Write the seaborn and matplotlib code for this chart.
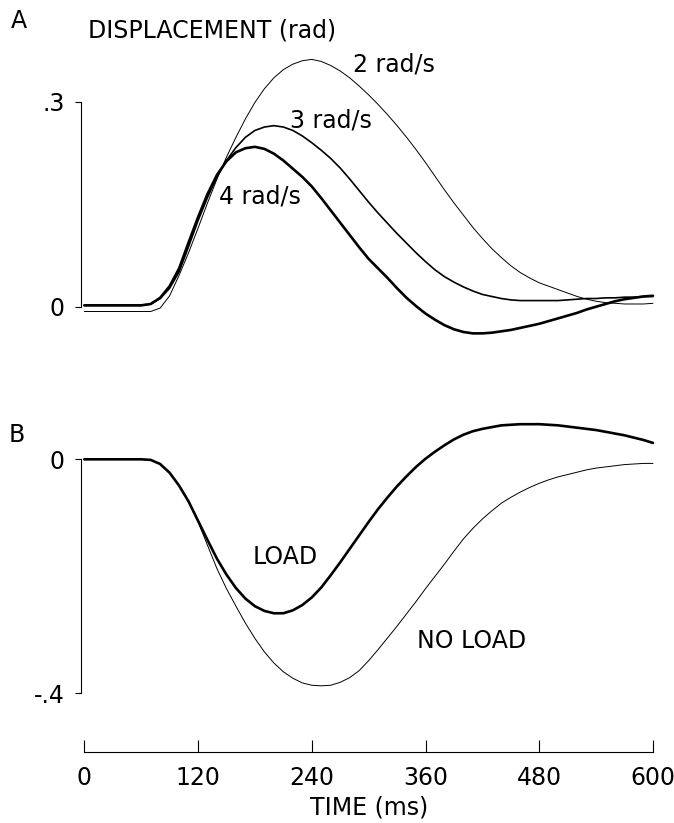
import matplotlib
matplotlib.use("Agg")
import matplotlib.pyplot as plt
import seaborn as sns

# time base shared by both panels (ms)
time_ms = [0, 10, 20, 30, 40, 50, 60, 70, 80, 90, 100, 110, 120, 130, 140, 150,
           160, 170, 180, 190, 200, 210, 220, 230, 240, 250, 260, 270, 280, 290,
           300, 310, 320, 330, 340, 350, 360, 370, 380, 390, 400, 410, 420, 430,
           440, 450, 460, 470, 480, 490, 500, 510, 520, 530, 540, 550, 560, 570,
           580, 590, 600]

# panel A: displacement (rad) for three velocities
disp_2 = [-0.007, -0.007, -0.007, -0.007, -0.007, -0.007, -0.007, -0.007, -0.002,
          0.016, 0.046, 0.079, 0.115, 0.152, 0.187, 0.219, 0.248, 0.275, 0.299,
          0.319, 0.335, 0.347, 0.355, 0.360, 0.362, 0.359, 0.353, 0.345, 0.335,
          0.323, 0.310, 0.296, 0.281, 0.265, 0.248, 0.230, 0.211, 0.191, 0.171,
          0.152, 0.134, 0.116, 0.100, 0.085, 0.072, 0.060, 0.050, 0.042, 0.035,
          0.030, 0.025, 0.020, 0.015, 0.011, 0.008, 0.006, 0.005, 0.004, 0.004,
          0.004, 0.005]
disp_3 = [0.002, 0.002, 0.002, 0.002, 0.002, 0.002, 0.002, 0.004, 0.012, 0.027,
          0.051, 0.088, 0.126, 0.160, 0.190, 0.214, 0.233, 0.248, 0.258, 0.263,
          0.265, 0.263, 0.258, 0.250, 0.240, 0.229, 0.217, 0.203, 0.187, 0.170,
          0.153, 0.137, 0.122, 0.107, 0.093, 0.079, 0.066, 0.054, 0.044, 0.036,
          0.029, 0.023, 0.018, 0.015, 0.012, 0.010, 0.009, 0.009, 0.009, 0.009,
          0.009, 0.010, 0.011, 0.012, 0.012, 0.013, 0.013, 0.014, 0.014, 0.015,
          0.015]
disp_4 = [0.002, 0.002, 0.002, 0.002, 0.002, 0.002, 0.002, 0.004, 0.013, 0.030,
          0.056, 0.094, 0.131, 0.165, 0.193, 0.213, 0.226, 0.232, 0.234, 0.231,
          0.224, 0.214, 0.202, 0.190, 0.176, 0.159, 0.141, 0.123, 0.105, 0.087,
          0.070, 0.056, 0.042, 0.027, 0.013, 0.001, -0.010, -0.019, -0.027,
          -0.033, -0.037, -0.039, -0.039, -0.038, -0.036, -0.034, -0.031, -0.028,
          -0.025, -0.021, -0.017, -0.013, -0.009, -0.004, 0.000, 0.004, 0.008,
          0.011, 0.013, 0.015, 0.016]

# panel B: load vs no load
load = [0.0, 0.0, 0.0, 0.0, 0.0, 0.0, 0.0, -0.001, -0.008, -0.023, -0.045, -0.072,
        -0.105, -0.138, -0.170, -0.197, -0.220, -0.238, -0.251, -0.259, -0.263,
        -0.263, -0.258, -0.249, -0.236, -0.219, -0.198, -0.176, -0.153, -0.130,
        -0.107, -0.085, -0.065, -0.046, -0.029, -0.013, 0.001, 0.013, 0.024,
        0.034, 0.042, 0.048, 0.052, 0.055, 0.058, 0.059, 0.060, 0.060, 0.060,
        0.059, 0.058, 0.056, 0.054, 0.052, 0.050, 0.047, 0.044, 0.041, 0.037,
        0.033, 0.028]
no_load = [0.0, 0.0, 0.0, 0.0, 0.0, 0.0, 0.0, -0.001, -0.008, -0.023, -0.045,
           -0.073, -0.107, -0.147, -0.187, -0.221, -0.251, -0.280, -0.306, -0.329,
           -0.348, -0.363, -0.374, -0.382, -0.386, -0.387, -0.386, -0.381, -0.373,
           -0.361, -0.344, -0.325, -0.305, -0.285, -0.264, -0.243, -0.221, -0.200,
           -0.179, -0.157, -0.136, -0.118, -0.102, -0.088, -0.075, -0.065, -0.056,
           -0.048, -0.041, -0.035, -0.030, -0.026, -0.022, -0.018, -0.015, -0.013,
           -0.011, -0.009, -0.008, -0.007, -0.007]

x_ticks = [0, 120, 240, 360, 480, 600]

sns.set_style("white")
plt.rcParams['font.family'] = ['DejaVu Sans']
plt.rcParams['text.color'] = 'k'
plt.rcParams['axes.labelcolor'] = 'k'
plt.rcParams['xtick.color'] = 'k'
plt.rcParams['ytick.color'] = 'k'
FS = 17

fig = plt.figure(figsize=(6.74, 8.23), dpi=100)
axA = fig.add_axes([0.1209, 0.5775, 0.8521, 0.3985])
axB = fig.add_axes([0.1209, 0.0863, 0.8521, 0.4125])

#Panel A
sns.lineplot(x=time_ms, y=disp_2, ax=axA, color="k", linewidth=0.7)
sns.lineplot(x=time_ms, y=disp_3, ax=axA, color="k", linewidth=1.2)
sns.lineplot(x=time_ms, y=disp_4, ax=axA, color="k", linewidth=1.9)
axA.set_xlim(-3, 603)
axA.set_ylim(-0.06, 0.42)
for s in ["top", "right", "bottom"]:
    axA.spines[s].set_visible(False)
axA.spines["left"].set_bounds(0, 0.3)
axA.spines["left"].set_linewidth(0.8)
axA.spines["left"].set_color("k")
axA.set_xticks([])
axA.set_yticks([0, 0.3])
axA.set_yticklabels(["0", ".3"])
axA.tick_params(axis="y", left=True, direction="out", length=4, width=0.8,
                pad=8, labelsize=FS)
axA.text(283, 0.354, "2 rad/s", fontsize=FS, va="center", ha="left")
axA.text(217, 0.273, "3 rad/s", fontsize=FS, va="center", ha="left")
axA.text(142, 0.162, "4 rad/s", fontsize=FS, va="center", ha="left")
axA.text(4, 0.405, "DISPLACEMENT (rad)", fontsize=FS, va="center", ha="left",
         clip_on=False)

#Panel B
sns.lineplot(x=time_ms, y=no_load, ax=axB, color="k", linewidth=0.7)
sns.lineplot(x=time_ms, y=load, ax=axB, color="k", linewidth=1.9)
axB.set_xlim(-3, 603)
axB.set_ylim(-0.5, 0.08)
for s in ["top", "right"]:
    axB.spines[s].set_visible(False)
axB.spines["left"].set_bounds(-0.4, 0)
axB.spines["bottom"].set_bounds(0, 600)
for s in ["left", "bottom"]:
    axB.spines[s].set_linewidth(0.8)
    axB.spines[s].set_color("k")
axB.set_yticks([-0.4, 0])
axB.set_yticklabels(["-.4", "0"])
axB.tick_params(axis="y", left=True, direction="out", length=4, width=0.8,
                pad=8, labelsize=FS)
axB.set_xticks(x_ticks)
axB.set_xticklabels([str(t) for t in x_ticks])
axB.tick_params(axis="x", bottom=True, direction="in", length=9, width=0.8,
                pad=10, labelsize=FS)
axB.set_xlabel("TIME (ms)", fontsize=FS, labelpad=4)
axB.text(178, -0.167, "LOAD", fontsize=FS, va="center", ha="left")
axB.text(351, -0.311, "NO LOAD", fontsize=FS, va="center", ha="left")

fig.text(0.028, 0.9745, "A", fontsize=FS, ha="center", va="center")
fig.text(0.025, 0.4714, "B", fontsize=FS, ha="center", va="center")

fig.savefig("out.png", dpi=100)
